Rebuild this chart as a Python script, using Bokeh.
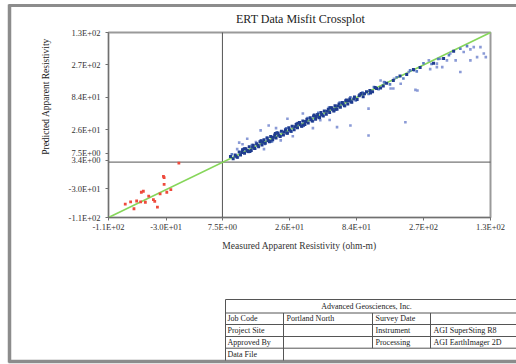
import math
from bokeh.plotting import figure
from bokeh.models import Range1d, FixedTicker, LinearAxis
from bokeh.core.properties import value
from bokeh.embed import file_html
from bokeh.resources import INLINE

W, H = 516, 364
FONT = "Liberation Serif"

# ---------------- data (axis units of the crossplot) ----------------
x_lim = [-1.70, 4.0]
y_lim = [-1.71, 4.0]
x_ticks = [-1.70, -0.84, 0.0, 1.0, 2.0, 3.0, 4.0]
x_tick_labels = ["-1.1E+02", "-3.0E+01", "7.5E+00", "2.6E+01", "8.4E+01", "2.7E+02", "1.3E+02"]
y_ticks = [-1.71, -0.82, 0.05, 0.27, 1.0, 2.0, 3.0, 4.0]
y_tick_labels = ["-1.1E+02", "-3.0E+01", "3.4E+00", "7.5E+00", "2.6E+01", "8.4E+01", "2.7E+02", "1.3E+02"]

fit_x = [-1.70, 4.0]
fit_y = [-1.71, 4.0]
cross_x = 0.0
cross_y = 0.0

band_x = [0.12, 0.16, 0.19, 0.22, 0.25, 0.27, 0.30, 0.33, 0.35, 0.38, 0.40, 0.43, 0.46, 0.48,
          0.51, 0.54, 0.56, 0.59, 0.62, 0.64, 0.67, 0.70, 0.72, 0.75, 0.78, 0.80, 0.83, 0.86,
          0.88, 0.91, 0.94, 0.96, 0.99, 1.02, 1.04, 1.07, 1.10, 1.12, 1.15, 1.18, 1.20, 1.23,
          1.26, 1.28, 1.31, 1.34, 1.36, 1.39, 1.42, 1.44, 1.47, 1.50, 1.52, 1.55, 1.58, 1.60,
          1.63, 1.66, 1.68, 1.71, 1.74, 1.76, 1.79, 1.82, 1.84, 1.87, 1.90, 1.93, 1.97, 2.01,
          2.05, 2.10, 2.15, 2.21, 2.28, 2.36,
          0.20, 0.29, 0.37, 0.45, 0.53, 0.60, 0.68, 0.76, 0.84, 0.92, 1.00, 1.08, 1.16, 1.24,
          1.32, 1.40, 1.48, 1.56, 1.64, 1.72, 1.80, 1.88, 1.96, 2.04, 2.12, 2.20, 2.30, 2.45,
          2.55, 2.65, 2.75, 2.85, 2.95, 3.15, 3.30, 3.45,
          0.33, 0.41, 0.58, 0.71, 0.79, 0.97, 1.13, 1.21, 1.37, 1.45, 1.61, 1.69, 1.85, 1.92,
          2.07, 2.24, 2.40]
band_y = [0.17, 0.10, 0.22, 0.15, 0.31, 0.22, 0.38, 0.27, 0.41, 0.33, 0.47, 0.36, 0.52, 0.42,
          0.57, 0.47, 0.63, 0.53, 0.69, 0.58, 0.74, 0.63, 0.79, 0.69, 0.84, 0.74, 0.90, 0.79,
          0.95, 0.84, 1.00, 0.90, 1.06, 0.95, 1.11, 1.00, 1.16, 1.06, 1.22, 1.11, 1.27, 1.16,
          1.32, 1.21, 1.37, 1.27, 1.42, 1.32, 1.47, 1.37, 1.53, 1.43, 1.58, 1.48, 1.63, 1.53,
          1.68, 1.58, 1.74, 1.63, 1.79, 1.69, 1.84, 1.74, 1.89, 1.79, 1.95, 1.85, 2.01, 1.93,
          2.08, 2.02, 2.17, 2.13, 2.30, 2.29,
          0.18, 0.30, 0.36, 0.46, 0.52, 0.61, 0.67, 0.77, 0.83, 0.93, 0.99, 1.09, 1.15, 1.25,
          1.31, 1.41, 1.47, 1.57, 1.63, 1.73, 1.79, 1.89, 1.95, 2.05, 2.11, 2.21, 2.27, 2.43,
          2.52, 2.66, 2.70, 2.86, 2.92, 3.05, 3.20, 3.42,
          0.41, 0.33, 0.66, 0.64, 0.88, 0.89, 1.20, 1.14, 1.45, 1.38, 1.68, 1.63, 1.92, 1.86,
          2.12, 2.17, 2.35]

mid_x = [0.14, 0.23, 0.31, 0.39, 0.44, 0.49, 0.57, 0.63, 0.66, 0.74, 0.81, 0.87, 0.95, 1.03,
         1.11, 1.19, 1.27, 1.35, 1.43, 1.51, 1.59, 1.67, 1.75, 1.83, 1.91, 1.99, 2.09, 2.18,
         2.26, 2.33, 2.42, 2.50, 2.60, 2.70, 2.80, 2.90, 3.00, 3.12, 3.22, 3.38, 3.55, 3.65]
mid_y = [0.24, 0.14, 0.40, 0.31, 0.53, 0.41, 0.66, 0.56, 0.75, 0.64, 0.92, 0.80, 1.04, 0.94,
         1.20, 1.10, 1.36, 1.26, 1.52, 1.42, 1.68, 1.58, 1.84, 1.73, 2.00, 1.90, 2.15, 2.10,
         2.32, 2.25, 2.46, 2.40, 2.62, 2.58, 2.83, 2.80, 3.05, 3.03, 3.18, 3.30, 3.50, 3.58]

scatter_x = [0.97, 0.57, 0.37, 0.69, 1.71, 1.46, 0.87, 2.18, 1.91, 2.73, 2.18, 2.51, 2.88,
             3.55, 3.28, 3.20, 2.78, 2.86, 2.91, 3.10, 3.60, 3.70, 3.90, 3.20, 3.35, 3.48,
             3.70, 3.85, 3.93, 3.75, 3.40, 3.25, 3.80, 3.08, 2.56, 2.66, 2.41, 2.36, 2.55,
             0.22, 0.30, 0.50, 0.25, 1.20, 1.05, 1.60, 0.80, 0.62, 1.35]
scatter_y = [1.34, 0.98, 0.72, 1.13, 1.08, 1.29, 0.67, 0.82, 1.13, 1.23, 1.65, 2.27, 2.23,
             2.78, 2.93, 2.93, 2.78, 2.83, 2.21, 2.87, 3.40, 3.14, 3.35, 3.04, 3.14, 3.14,
             3.48, 3.55, 3.24, 3.55, 3.35, 3.19, 3.24, 3.14, 2.57, 2.42, 2.47, 2.52, 2.27,
             0.40, 0.55, 0.62, 0.60, 1.50, 0.80, 1.30, 1.05, 0.40, 1.05]

neg_x = [-0.88, -0.87, -0.87, -1.18, -1.21, -1.28, -1.37, -1.22, -1.15, -1.03, -1.01,
         -0.83, -0.77, -1.32, -0.97, -0.65, -1.10, -0.93, -1.45]
neg_y = [-0.44, -0.48, -0.69, -0.90, -0.93, -1.20, -1.23, -1.23, -1.24, -1.16, -1.21,
         -0.93, -0.85, -1.44, -1.39, -0.03, -1.05, -0.98, -1.30]

title_text = "ERT Data Misfit Crossplot"
x_label = "Measured Apparent Resistivity (ohm-m)"
y_label = "Predicted Apparent Resistivity"

table_header = "Advanced Geosciences, Inc."
table_rows = [["Job Code", "Portland North", "Survey Date", ""],
              ["Project Site", "", "Instrument", "AGI SuperSting R8"],
              ["Approved By", "", "Processing", "AGI EarthImager 2D"],
              ["Data File", "", "", ""]]

# ---------------- layout: plot box inside the page (pixels) ----------------
BOX_L, BOX_R, BOX_T, BOX_B = 108, 490, 32, 217
sx_unit = (x_lim[1] - x_lim[0]) / (BOX_R - BOX_L)
sy_unit = (y_lim[1] - y_lim[0]) / (BOX_B - BOX_T)
xr = Range1d(x_lim[0] - BOX_L * sx_unit, x_lim[1] + (W - BOX_R) * sx_unit)
yr = Range1d(y_lim[0] - (H - BOX_B) * sy_unit, y_lim[1] + BOX_T * sy_unit)

p = figure(width=W, height=H, output_backend="svg", toolbar_location=None,
           x_range=xr, y_range=yr, x_axis_location=None, y_axis_location=None,
           min_border=0)
p.extra_x_ranges = {"page": Range1d(0, W)}
p.extra_y_ranges = {"page": Range1d(H, 0)}
p.background_fill_color = "white"
p.border_fill_color = "white"
p.outline_line_color = None
p.grid.visible = False

# plot box
p.quad(left=[x_lim[0]], right=[x_lim[1]], bottom=[y_lim[0]], top=[y_lim[1]],
       fill_color=None, line_color="#9a9a9a", line_width=2)

# axes fixed at the plot box edges
xaxis = LinearAxis(fixed_location=y_lim[0], bounds=(x_lim[0], x_lim[1]))
yaxis = LinearAxis(fixed_location=x_lim[0], bounds=(y_lim[0], y_lim[1]))
p.add_layout(xaxis, "below")
p.add_layout(yaxis, "left")
for ax, ticks, labels in ((xaxis, x_ticks, x_tick_labels), (yaxis, y_ticks, y_tick_labels)):
    ax.ticker = FixedTicker(ticks=ticks)
    ax.major_label_overrides = {t: l for t, l in zip(ticks, labels)}
    ax.major_label_text_font = FONT
    ax.major_label_text_font_size = "8.5px"
    ax.major_label_text_color = "#333333"
    ax.axis_label_text_font = FONT
    ax.axis_label_text_font_style = "normal"
    ax.axis_label_text_color = "#333333"
    ax.axis_line_color = "#707070"
    ax.major_tick_line_color = "#707070"
    ax.major_tick_out = 3
    ax.major_tick_in = 0
    ax.minor_tick_line_color = None
xaxis.major_label_standoff = 1
xaxis.axis_label = x_label
xaxis.axis_label_text_font_size = "9.5px"
xaxis.axis_label_standoff = 6
yaxis.major_label_standoff = 5

# crosshair
p.segment(x0=[cross_x, x_lim[0]], y0=[y_lim[0], cross_y], x1=[cross_x, x_lim[1]], y1=[y_lim[1], cross_y],
          line_color="#555555", line_width=1)

p.line(fit_x, fit_y, line_color="#86d65a", line_width=1.6)
p.scatter(scatter_x, scatter_y, marker="square", size=2.6, fill_color="#7d8fd2",
          line_color=None, fill_alpha=0.9)
p.scatter(mid_x, mid_y, marker="square", size=2.6, fill_color="#4a70bf",
          line_color=None, fill_alpha=0.9)
p.scatter(band_x, band_y, marker="square", size=3, fill_color="#1f3c8f", line_color=None)
p.scatter(neg_x, neg_y, marker="square", size=2.8, fill_color="#ee4a3c", line_color=None)

# ---------------- page decoration in page pixels ----------------
def seg(x0, y0, x1, y1, color="#555555", width=1):
    p.segment(x0=[x0], y0=[y0], x1=[x1], y1=[y1], line_color=color, line_width=width,
              x_range_name="page", y_range_name="page")

def txt(x, y, s, size="8px", align="left", angle=0.0):
    p.text(x=[x], y=[y], text=[s], angle=angle, text_font=value(FONT), text_font_size=value(size),
           text_color="#222222", text_align=align, text_baseline="middle",
           x_range_name="page", y_range_name="page")

# titles
txt(300, 18, title_text, "12px", "center")
txt(45, 96, y_label, "9.5px", "center", math.pi / 2)

# page border
seg(8, 5, 530, 5, "#8c8c8c", 3)
seg(9, 4, 9, 362, "#8c8c8c", 3.5)
seg(8, 361, 530, 361, "#8c8c8c", 3.5)

# title block
tl, tr = 225, 530
col2, col3, col4 = 283, 372, 430
row_lines = [299, 312.5, 324, 336, 347.7]
for yy in row_lines:
    seg(tl, yy, tr, yy)
seg(tl, 299, tl, 360)
seg(col2, 312.5, col2, 360)
seg(col3, 312.5, col3, 347.7)
seg(col4, 312.5, col4, 347.7)

txt(366, 306, table_header, "8px", "center")
row_centers = [318.3, 330, 341.8, 353.5]
col_x = [227, 286, 375, 433]
for rc, row in zip(row_centers, table_rows):
    for cx, s in zip(col_x, row):
        if s:
            txt(cx, rc, s)

open("out.html", "w").write(file_html(p, INLINE))
